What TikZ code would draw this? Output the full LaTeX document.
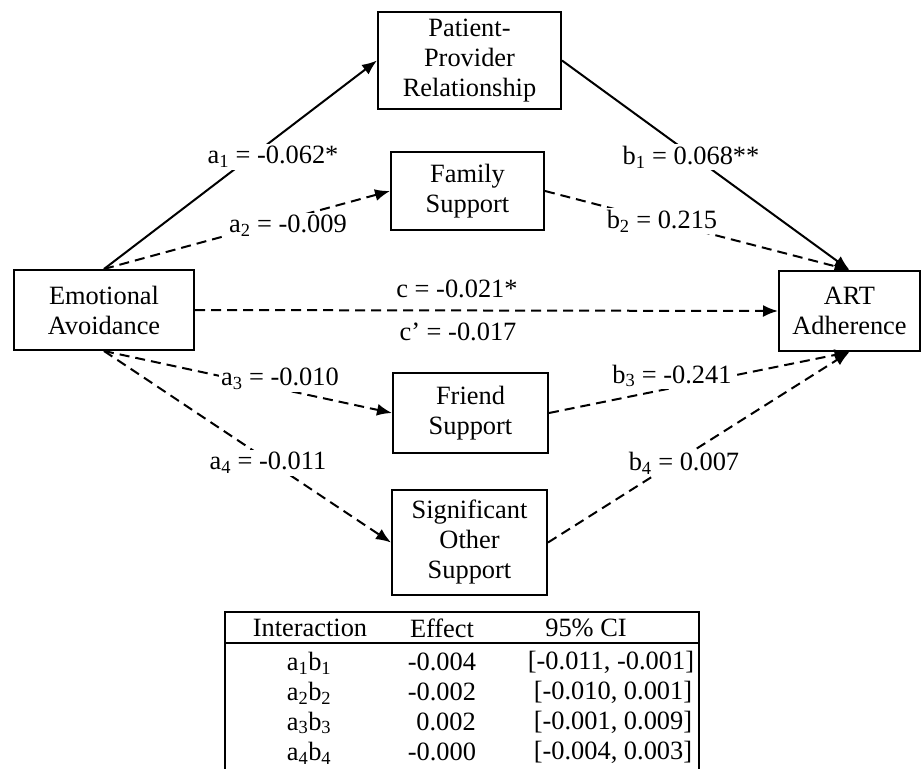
\documentclass[tikz,border=0pt]{standalone}
\usepackage{fontspec}
\setmainfont{Liberation Serif}
\usetikzlibrary{arrows.meta}
\newcommand\diagfont{\fontsize{26.4}{30}\selectfont}
\begin{document}
\begin{tikzpicture}[x=1pt,y=-1pt,
  box/.style={draw, line width=2pt, align=center, inner sep=0pt, font=\diagfont},
  lbl/.style={fill=white, inner sep=2pt, font=\diagfont},
  txt/.style={inner sep=0pt, font=\diagfont},
  solidarrow/.style={line width=2pt, -{Latex[length=15pt,width=12pt]}},
  dasharrow/.style={line width=2pt, dash pattern=on 10pt off 6pt, -{Latex[length=15pt,width=12pt]}},
  tbl/.style={line width=1.8pt}]
\useasboundingbox (0,0) rectangle (922,769);
% boxes
\node[box, minimum width=183pt, minimum height=97pt] (PP) at (469.5,60.5) {Patient-\\Provider\\Relationship};
\node[box, minimum width=153pt, minimum height=78pt] (FS) at (467.5,191) {Family\\Support};
\node[box, minimum width=180pt, minimum height=80pt] (EA) at (104,310) {Emotional\\Avoidance};
\node[box, minimum width=141pt, minimum height=80pt] (ART) at (849.5,311) {ART\\Adherence};
\node[box, minimum width=155pt, minimum height=80pt] (FR) at (470.5,413) {Friend\\Support};
\node[box, minimum width=155pt, minimum height=105pt] (SO) at (469.5,542.5) {Significant\\Other\\Support};
% connectors
\draw[solidarrow] (EA.north) -- (PP.west);
\draw[dasharrow] (EA.north) -- (FS.west);
\draw[dasharrow] (EA.east) -- (ART.west);
\draw[dasharrow] (EA.south) -- (FR.west);
\draw[dasharrow] (EA.south) -- (SO.west);
\draw[solidarrow] (PP.east) -- (ART.north);
\draw[dasharrow] (FS.east) -- (ART.north);
\draw[dasharrow] (FR.east) -- (ART.south);
\draw[dasharrow] (SO.east) -- (ART.south);
% labels
\node[lbl] (la1) at (273,157) {a\textsubscript{1} = -0.062*};
\node[lbl] (la2) at (288,226) {a\textsubscript{2} = -0.009};
\node[lbl] (lb1) at (691,157) {b\textsubscript{1} = 0.068**};
\node[lbl] (lb2) at (662,221) {b\textsubscript{2} = 0.215};
\node[txt] (lc) at (457,289) {c = -0.021*};
\node[txt] (lcp) at (458,332) {c’ = -0.017};
\node[lbl] (la3) at (280,379) {a\textsubscript{3} = -0.010};
\node[lbl] (la4) at (268,463) {a\textsubscript{4} = -0.011};
\node[lbl] (lb3) at (672,376) {b\textsubscript{3} = -0.241};
\node[lbl] (lb4) at (684,463) {b\textsubscript{4} = 0.007};
% table
\draw[tbl] (225,769) -- (225,612) -- (699,612) -- (699,769);
\draw[tbl] (225,643) -- (699,643);
\node[txt] (h1) at (310,628) {Interaction};
\node[txt] (h2) at (442,628) {Effect};
\node[txt] (h3) at (586,628) {95\% CI};
\node[txt] (r1a) at (309,663) {a\textsubscript{1}b\textsubscript{1}};
\node[txt] (r1b) at (442,662) {-0.004};
\node[txt] (r1c) at (611,662) {[-0.011, -0.001]};
\node[txt] (r2a) at (309,693) {a\textsubscript{2}b\textsubscript{2}};
\node[txt] (r2b) at (442,692) {-0.002};
\node[txt] (r2c) at (613,692) {[-0.010, 0.001]};
\node[txt] (r3a) at (309,723) {a\textsubscript{3}b\textsubscript{3}};
\node[txt] (r3b) at (446,722) {0.002};
\node[txt] (r3c) at (613,722) {[-0.001, 0.009]};
\node[txt] (r4a) at (309,753) {a\textsubscript{4}b\textsubscript{4}};
\node[txt] (r4b) at (442,752) {-0.000};
\node[txt] (r4c) at (613,752) {[-0.004, 0.003]};
\end{tikzpicture}
\end{document}
